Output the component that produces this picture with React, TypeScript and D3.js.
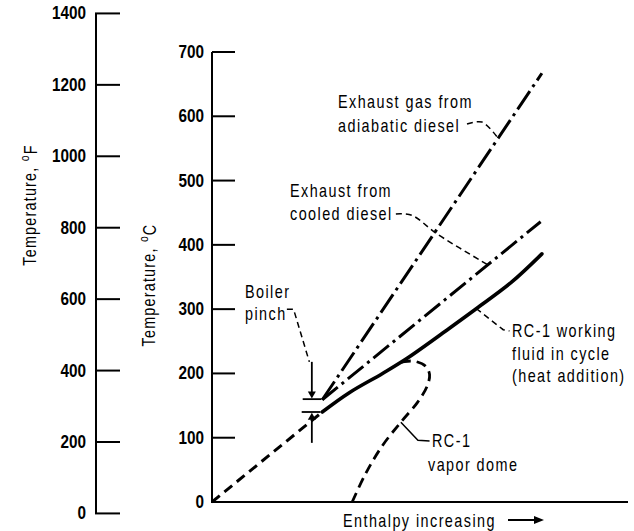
import React from 'react'
import * as d3 from 'd3'

// tick values on the two temperature axes
const celsiusTicks = [0, 100, 200, 300, 400, 500, 600, 700]
const fahrenheitTicks = [0, 200, 400, 600, 800, 1000, 1200, 1400]

// curves, [enthalpy (arbitrary 0-100), temperature °C]
const fluidPreheat: [number, number][] = [[0, 0], [26.5, 140]]
const fluidHeating: [number, number][] = [
  [26.5, 140], [33, 170], [41, 200], [47, 224], [57, 270], [64, 303], [72, 342], [79.3, 386],
]
const adiabaticExhaust: [number, number][] = [[26.5, 159], [79.3, 667]]
const cooledExhaust: [number, number][] = [[26.5, 159], [79.0, 436]]
const vaporDome: [number, number][] = [
  [33.7, 0], [37, 45], [41, 88], [45.5, 125], [49.4, 155], [51.7, 180],
  [52.3, 198], [51.4, 211], [49, 218.5], [46.3, 218.5], [44.2, 214],
]

// leader lines (same units)
const adiabaticLeader: [number, number][] = [[61.3, 588], [64.9, 591], [68.75, 566]]
const cooledLeader: [number, number][] = [[44.2, 448], [48, 446], [54.1, 417], [66.3, 369]]
const fluidLeader: [number, number][] = [[63.5, 301], [70, 268], [71.5, 266]]
const domeLeader: [number, number][] = [[45.4, 124], [49.5, 96], [52.3, 95]]
const pinchLeader: [number, number][] = [[18, 300], [19.6, 300], [23.4, 218]]

const W = 634
const H = 531

const FONT = "'Liberation Sans', Arial, sans-serif"

function Label({ x, y, children, anchor = 'start', bold = false, rotate = 0, spacing = 1.8 }: {
  x: number; y: number; children: React.ReactNode; anchor?: string; bold?: boolean; rotate?: number; spacing?: number
}) {
  return (
    <text
      transform={`translate(${x},${y}) rotate(${rotate}) scale(${bold ? 0.85 : 0.8},1)`}
      textAnchor={anchor}
      fontFamily={FONT}
      fontSize={18}
      fontWeight={bold ? 700 : 400}
      letterSpacing={bold ? 0 : spacing}
      fill="#000"
    >
      {children}
    </text>
  )
}

export default function App() {
  const x = d3.scaleLinear().domain([0, 100]).range([212, 628])
  const yC = d3.scaleLinear().domain([0, 700]).range([502, 52])
  const toC = (f: number) => (f - 32) * 5 / 9
  const yF = d3.scaleLinear().domain([0, 1400]).range([yC(toC(0)), yC(toC(1400))])

  const line = d3.line<[number, number]>().x(d => x(d[0])).y(d => yC(d[1]))
  const smooth = d3.line<[number, number]>().x(d => x(d[0])).y(d => yC(d[1])).curve(d3.curveCatmullRom)

  const pinchX = x(24)
  const barL = x(21.8)
  const barR = x(26.3)

  return (
    <svg width={W} height={H} style={{ position: 'absolute', left: 0, top: 0, background: '#fff' }}>
      {/* Fahrenheit axis */}
      <line x1={96} x2={96} y1={yF(1400)} y2={yF(0)} stroke="#000" strokeWidth={2} />
      {fahrenheitTicks.map(t => (
        <g key={'f' + t}>
          <line x1={95} x2={120} y1={yF(t)} y2={yF(t)} stroke="#000" strokeWidth={2} />
          <Label x={86} y={yF(t) + 6} anchor="end" bold>{t}</Label>
        </g>
      ))}
      <Label x={36} y={205} rotate={-90} anchor="middle" spacing={1.5}>
        Temperature, <tspan fontSize={13} dy={-7}>o</tspan><tspan dy={8}>F</tspan>
      </Label>

      {/* Celsius axis */}
      <line x1={212} x2={212} y1={yC(700)} y2={yC(0)} stroke="#000" strokeWidth={2} />
      <line x1={211} x2={628} y1={yC(0)} y2={yC(0)} stroke="#000" strokeWidth={2} />
      {celsiusTicks.map(t => (
        <g key={'c' + t}>
          <line x1={212} x2={235} y1={yC(t)} y2={yC(t)} stroke="#000" strokeWidth={2} />
          <Label x={204} y={yC(t) + 6} anchor="end" bold>{t}</Label>
        </g>
      ))}
      <Label x={155} y={285} rotate={-90} anchor="middle" spacing={1.5}>
        Temperature, <tspan fontSize={13} dy={-7}>o</tspan><tspan dy={8}>C</tspan>
      </Label>

      {/* curves */}
      <path d={line(fluidPreheat)!} fill="none" stroke="#000" strokeWidth={3} strokeDasharray="10,6" />
      <path d={smooth(fluidHeating)!} fill="none" stroke="#000" strokeWidth={3.6} strokeLinecap="round" />
      <path d={line(adiabaticExhaust)!} fill="none" stroke="#000" strokeWidth={3} strokeDasharray="22,5,3,5" />
      <path d={line(cooledExhaust)!} fill="none" stroke="#000" strokeWidth={3} strokeDasharray="20,5,3,5" />
      <path d={smooth(vaporDome)!} fill="none" stroke="#000" strokeWidth={2.8} strokeDasharray="10,6" />

      {/* leaders */}
      <path d={smooth(adiabaticLeader)!} fill="none" stroke="#000" strokeWidth={1.5} strokeDasharray="6,4" />
      <path d={smooth(cooledLeader)!} fill="none" stroke="#000" strokeWidth={1.5} strokeDasharray="6,4" />
      <path d={line(fluidLeader)!} fill="none" stroke="#000" strokeWidth={1.5} strokeDasharray="6,4" />
      <path d={line(domeLeader)!} fill="none" stroke="#000" strokeWidth={1.5} />
      <path d={line(pinchLeader)!} fill="none" stroke="#000" strokeWidth={1.5} strokeDasharray="6,4" />

      {/* boiler pinch markers */}
      <line x1={pinchX} x2={pinchX} y1={yC(218)} y2={yC(166)} stroke="#000" strokeWidth={1.8} />
      <path d={`M${pinchX - 4},${yC(172)} L${pinchX + 4},${yC(172)} L${pinchX},${yC(161)} Z`} fill="#000" />
      <line x1={barL} x2={barR} y1={yC(160)} y2={yC(160)} stroke="#000" strokeWidth={1.8} />
      <line x1={barL - 1} x2={barR - 1} y1={yC(140)} y2={yC(140)} stroke="#000" strokeWidth={1.8} />
      <path d={`M${pinchX - 4},${yC(128)} L${pinchX + 4},${yC(128)} L${pinchX},${yC(139)} Z`} fill="#000" />
      <line x1={pinchX} x2={pinchX} y1={yC(134)} y2={yC(92)} stroke="#000" strokeWidth={1.8} />

      {/* annotations */}
      <Label x={338} y={108}>Exhaust gas from</Label>
      <Label x={338} y={132}>adiabatic diesel</Label>
      <Label x={290} y={197}>Exhaust from</Label>
      <Label x={290} y={220}>cooled diesel</Label>
      <Label x={245} y={298}>Boiler</Label>
      <Label x={245} y={320}>pinch</Label>
      <Label x={512} y={337}>RC-1 working</Label>
      <Label x={512} y={360}>fluid in cycle</Label>
      <Label x={512} y={382}>(heat addition)</Label>
      <Label x={432} y={447}>RC-1</Label>
      <Label x={428} y={471}>vapor dome</Label>

      {/* x-axis label */}
      <Label x={343} y={527}>Enthalpy increasing</Label>
      <line x1={508} x2={536} y1={520} y2={520} stroke="#000" strokeWidth={2} />
      <path d="M544,520 L534,516 L534,524 Z" fill="#000" />
    </svg>
  )
}
